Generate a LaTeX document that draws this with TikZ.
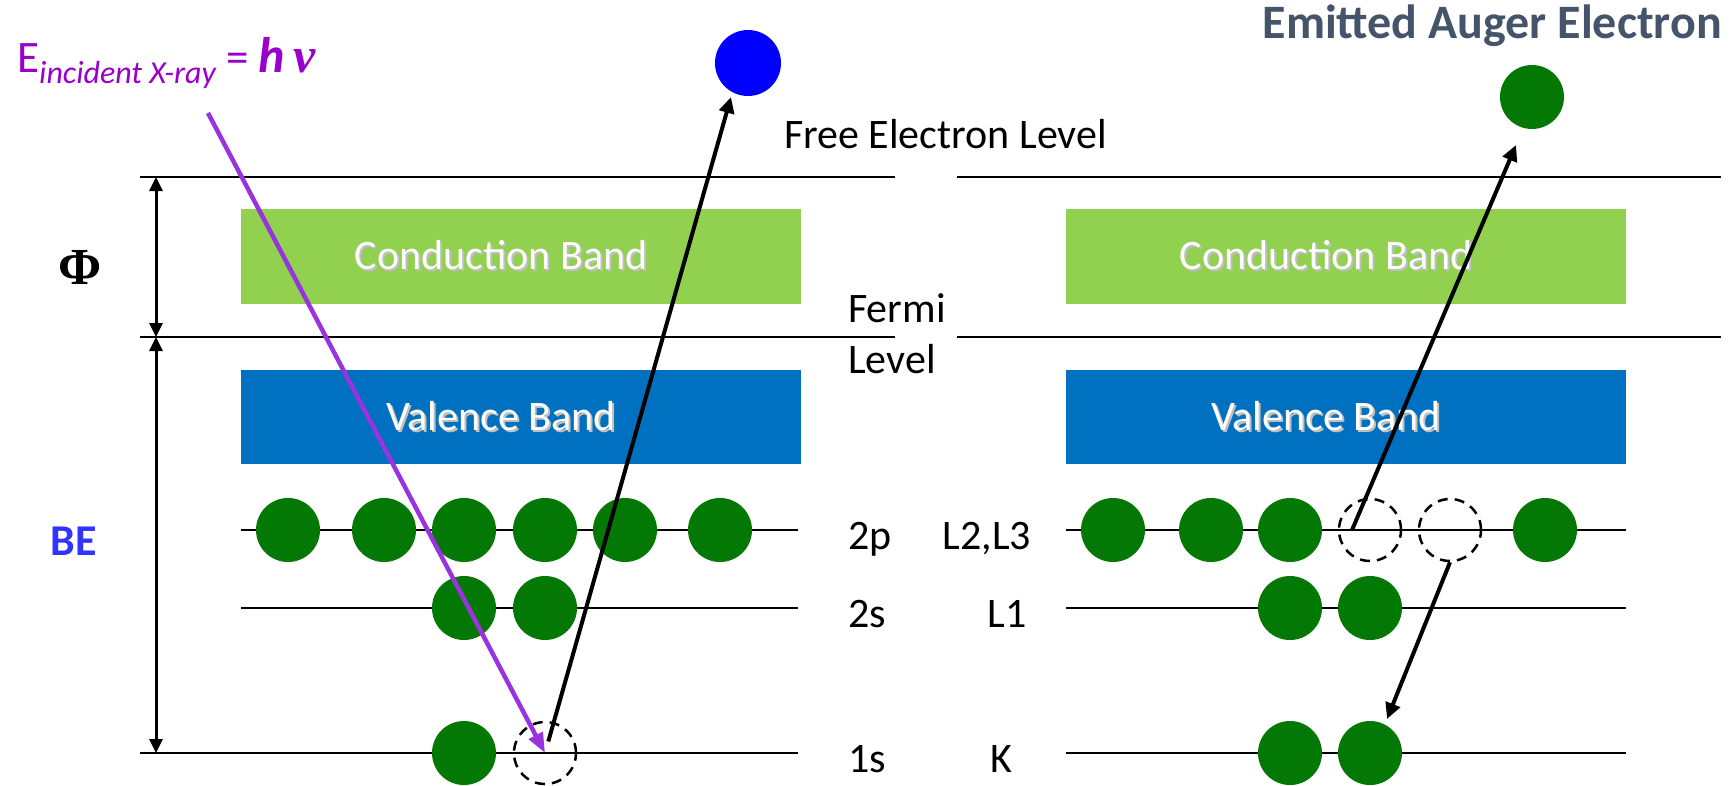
\documentclass[tikz,border=0pt]{standalone}
\usepackage{fontspec}
\setmainfont{Carlito}
\newfontfamily\greekserif{Liberation Serif}
\usetikzlibrary{arrows.meta,calc}

\definecolor{eGreen}{RGB}{4,120,4}
\definecolor{condGreen}{HTML}{92D050}
\definecolor{valBlue}{HTML}{0070C0}
\definecolor{xPurple}{HTML}{9900CC}
\definecolor{rayPurple}{HTML}{9933DD}
\definecolor{slate}{HTML}{44546A}
\definecolor{beBlue}{HTML}{3333FF}

\newcommand{\fs}[1]{\fontsize{#1}{#1}\selectfont}
% white band caption with a soft grey drop shadow
\newcommand{\shadowed}[1]{\hspace*{-40pt}\makebox[0pt][l]{\hspace{2pt}\raisebox{-2pt}{\color{black!25}#1}}#1}

\begin{document}
\begin{tikzpicture}[x=1pt,y=-1pt,
  level/.style={line width=2.5pt},
  electron/.style={circle,fill=eGreen,minimum size=64pt,inner sep=0},
  hole/.style={circle,draw,dash pattern=on 10pt off 7pt,line width=2.5pt,minimum size=62pt,inner sep=0},
  band/.style={minimum width=560pt,inner sep=0,text=white,font=\fs{42}},
  lbl/.style={font=\fs{42},inner sep=0},
  dimarrow/.style={line width=3pt,{Triangle[length=14pt,width=13pt]}-{Triangle[length=14pt,width=13pt]}},
  jump/.style={line width=4pt,-{Triangle[length=16pt,width=15pt]}},
]
\useasboundingbox (0,0) rectangle (1732,785);

% ---- energy level lines ----
\coordinate (fl-a) at (140,177);  \coordinate (fl-b) at (895,177);
\coordinate (fr-a) at (957,177);  \coordinate (fr-b) at (1721,177);
\coordinate (el-a) at (140,337);  \coordinate (el-b) at (895,337);
\coordinate (er-a) at (957,337);  \coordinate (er-b) at (1721,337);
\draw[level] (fl-a) -- (fl-b);
\draw[level] (fr-a) -- (fr-b);
\draw[level] (el-a) -- (el-b);
\draw[level] (er-a) -- (er-b);

\coordinate (l2p-a) at (241,530); \coordinate (l2p-b) at (798,530);
\coordinate (l2s-a) at (241,608); \coordinate (l2s-b) at (798,608);
\coordinate (l1s-a) at (140,753); \coordinate (l1s-b) at (798,753);
\coordinate (r2p-a) at (1066,530); \coordinate (r2p-b) at (1626,530);
\coordinate (r2s-a) at (1066,608); \coordinate (r2s-b) at (1626,608);
\coordinate (r1s-a) at (1066,753); \coordinate (r1s-b) at (1626,753);
\foreach \lv in {l2p,l2s,l1s,r2p,r2s,r1s}
  \draw[level] (\lv-a) -- (\lv-b);

% ---- work function and binding energy ----
\coordinate (phiTop) at (156,177);
\coordinate (phiBot) at (156,337);
\coordinate (beBot)  at (156,753);
\draw[dimarrow] (phiTop) -- (phiBot);
\draw[dimarrow] (phiBot) -- (beBot);
\node[font=\greekserif\bfseries\fs{52},inner sep=0] (phi) at (80,267) {Φ};
\node[font=\bfseries\fs{44},text=beBlue,inner sep=0] (be) at (74,541) {BE};

% ---- bands ----
\node[band,fill=condGreen,minimum height=95pt] (condL) at (521,256.5) {\shadowed{Conduction Band}};
\node[band,fill=valBlue,minimum height=94pt]   (valL)  at (521,417)   {\shadowed{Valence Band}};
\node[band,fill=condGreen,minimum height=95pt] (condR) at (1346,256.5) {\shadowed{Conduction Band}};
\node[band,fill=valBlue,minimum height=94pt]   (valR)  at (1346,417)   {\shadowed{Valence Band}};

% ---- left: photoemission ----
\foreach \x [count=\i] in {288,384,464,545,625,720}
  \node[electron] (l2p\i) at (\x,530) {};
\node[electron] (l2s1) at (464,608) {};
\node[electron] (l2s2) at (545,608) {};
\node[electron] (l1s1) at (464,753) {};
\node[hole] (lh) at (545,753) {};

\node[circle,fill=blue,minimum size=66pt,inner sep=0] (free) at (748,63) {};
\draw[jump,shorten <=12pt] (lh.center) -- ($(free.center)+(-17,34)$);

\coordinate (xray) at (208,113);
\draw[line width=4.5pt,rayPurple,-{Triangle[length=20pt,width=15pt]}] (xray) -- (lh.center);

\node[anchor=base west,inner sep=0,text=xPurple,font=\fs{45}] (xlbl) at (17,72)
  {E\raisebox{-11pt}{\fs{32}\itshape incident X-ray} = {\fs{50}\bfseries\itshape h\,{\greekserif ν}}};

% ---- right: Auger process ----
\node[electron] (r2p1) at (1113,530) {};
\node[electron] (r2p2) at (1211,530) {};
\node[electron] (r2p3) at (1290,530) {};
\node[hole]     (rh1)  at (1370,530) {};
\node[hole]     (rh2)  at (1450,530) {};
\node[electron] (r2p6) at (1545,530) {};
\node[electron] (r2s1) at (1290,608) {};
\node[electron] (r2s2) at (1370,608) {};
\node[electron] (rk1)  at (1290,753) {};
\node[electron] (rk2)  at (1370,753) {};

\node[electron] (auger) at (1532,97) {};
\draw[jump] ($(rh1.center)+(-18,0)$) -- ($(auger.center)+(-16,48)$);
\draw[jump] (rh2.south) -- ($(rk2.center)+(17,-34)$);

\node[font=\bfseries\fs{48},text=slate,anchor=base east,inner sep=0] (augerLbl) at (1722,38) {Emitted Auger Electron};

% ---- level labels ----
\node[lbl,anchor=west] (freeLbl) at (784,134) {Free Electron Level};
\node[lbl,anchor=base west] (fermi1) at (848,322) {Fermi};
\node[lbl,anchor=base west] (fermi2) at (848,373) {Level};
\node[lbl,anchor=base west] (n2p) at (848,549) {2p};
\node[lbl,anchor=base west] (n2s) at (848,627) {2s};
\node[lbl,anchor=base west] (n1s) at (848,772) {1s};
\node[lbl,anchor=base] (x23) at (987,549) {L2,L3};
\node[lbl,anchor=base] (x1)  at (1007,627) {L1};
\node[lbl,anchor=base] (xk)  at (1001,772) {K};
\end{tikzpicture}
\end{document}
